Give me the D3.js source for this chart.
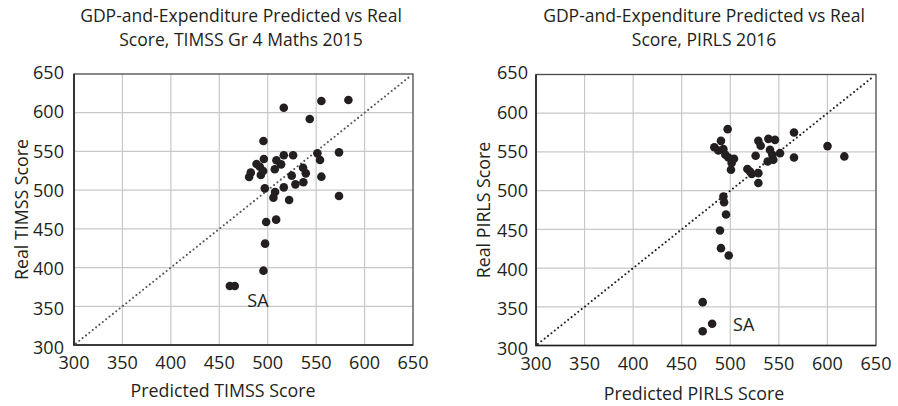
<!DOCTYPE html>
<html><head><meta charset="utf-8">
<script src="https://cdn.jsdelivr.net/npm/d3@7"></script>
<style>
html,body{margin:0;padding:0;background:#fff;}
text{font-family:"Open Sans",sans-serif;fill:#231f20;}
</style></head>
<body>
<svg id="c" width="898" height="406"></svg>
<script>
// ---- data ----
const axisTicks = [300, 350, 400, 450, 500, 550, 600, 650];
const timssPred = [516.6,555.4,583.3,543.4,495.6,496,516.6,526.2,509,513.8,488.4,491.8,495.3,492.9,482.5,480.8,507.3,551.3,554,573.6,536.5,539.3,524.8,555.4,497,516.6,528.6,536.8,507.6,505.9,522.1,573.6,498.4,508.7,497.3,495.6,460.9,466];
const timssReal = [606.5,615.1,616.4,591.9,563.5,540.2,545,545,538.5,533.3,533.8,530.3,524.7,519.6,522.6,517,526.9,547.5,538.9,548.8,529,521.7,518.7,517.4,502.3,503.6,507.5,510.1,497.6,490.3,487.3,492.4,458.9,461.9,430.9,396,376.2,376.2];
const pirlsPred = [497.3,490.4,483.6,487.7,492.9,494.9,498,503.8,501.4,500.7,517.6,520.3,522.1,528.9,528.9,526.1,528.9,531.3,539.2,546,540.9,543.3,538.5,544.3,551.2,565.6,565.6,600.1,617.4,492.9,493.6,495.6,489.4,490.4,498.4,471.6,481.3,471.6];
const pirlsReal = [579.4,564.3,556.1,551.8,553.6,546.3,542.8,541.1,535.6,527,527.9,524.7,521.7,522.6,509.8,545,564.3,557.9,566.9,565.6,552.7,546.2,537.6,539.8,548.4,575,542.8,557.5,544.2,492.4,485.1,469.2,448.5,425.7,416.2,356,328,318.5];
const titlesTimss = ["GDP-and-Expenditure Predicted vs Real", "Score, TIMSS Gr 4 Maths 2015"];
const titlesPirls = ["GDP-and-Expenditure Predicted vs Real", "Score, PIRLS 2016"];
const saTimss = {x: 463.5, y: 376.2, label: "SA"};
const saPirls = {x: 481.3, y: 328, label: "SA"};

const svg = d3.select("#c");

function fitSize(str, target, base) {
  const t = svg.append("text").style("font-size", base + "px").text(str);
  const w = t.node().getComputedTextLength();
  t.remove();
  return base * target / w;
}
const tickFs = fitSize("650", 31, 16);
const titleFs = fitSize(titlesTimss[0], 322, 16);
const axFs = fitSize("Predicted TIMSS Score", 185, 16);

function panel(cfg) {
  const g = svg.append("g");
  const x = d3.scaleLinear().domain([300, 650]).range([cfg.x0, cfg.x1]);
  const y = d3.scaleLinear().domain([300, 650]).range([cfg.y0, cfg.y1]);

  // grid
  g.append("g").selectAll("line").data(axisTicks.slice(1, -1)).join("line")
    .attr("x1", d => x(d)).attr("x2", d => x(d)).attr("y1", y(300)).attr("y2", y(650))
    .attr("stroke", "#c8c8c8").attr("stroke-width", 1.2);
  g.append("g").selectAll("line").data(axisTicks.slice(1, -1)).join("line")
    .attr("y1", d => y(d)).attr("y2", d => y(d)).attr("x1", x(300)).attr("x2", x(650))
    .attr("stroke", "#c8c8c8").attr("stroke-width", 1.2);

  // frame
  g.append("rect").attr("x", x(300)).attr("y", y(650))
    .attr("width", x(650) - x(300)).attr("height", y(300) - y(650))
    .attr("fill", "none").attr("stroke", "#4a4a4a").attr("stroke-width", 1.3);
  g.append("path").attr("d", `M${x(300)},${y(650)}V${y(300)}H${x(650)}`)
    .attr("fill", "none").attr("stroke", "#231f20").attr("stroke-width", 1.6);

  // diagonal
  g.append("line").attr("x1", x(302)).attr("y1", y(302)).attr("x2", x(648)).attr("y2", y(648))
    .attr("stroke", cfg.diagColor).attr("stroke-width", 2.1)
    .attr("stroke-linecap", "round").attr("stroke-dasharray", "0,4.3");

  // points
  g.append("g").selectAll("circle").data(cfg.px.map((v, i) => [v, cfg.py[i]])).join("circle")
    .attr("cx", d => x(d[0])).attr("cy", d => y(d[1])).attr("r", 4.3).attr("fill", "#231f20");

  // SA label
  g.append("text").attr("x", x(cfg.sa.x) + cfg.saDx).attr("y", y(cfg.sa.y) + cfg.saDy)
    .attr("dominant-baseline", "central").style("font-size", tickFs + "px").text(cfg.sa.label);

  // tick labels
  g.append("g").selectAll("text").data(axisTicks).join("text")
    .attr("x", d => x(d)).attr("y", y(300) + 17).attr("text-anchor", "middle")
    .attr("dominant-baseline", "central").style("font-size", tickFs + "px").text(d => d);
  g.append("g").selectAll("text").data(axisTicks).join("text")
    .attr("x", x(300) - cfg.yLabGap).attr("y", d => y(d) + (d - 475) * -0.012)
    .attr("text-anchor", "end").attr("dominant-baseline", "central")
    .style("font-size", tickFs + "px").text(d => d);

  // titles
  cfg.titles.forEach((t, i) => {
    g.append("text").attr("x", cfg.titleX).attr("y", 15 + i * 24)
      .attr("text-anchor", "middle").attr("dominant-baseline", "central")
      .style("font-size", titleFs + "px").text(t);
  });
  g.append("text").attr("x", cfg.xTitleX).attr("y", cfg.xTitleY)
    .attr("text-anchor", "middle").attr("dominant-baseline", "central")
    .style("font-size", axFs + "px").text(cfg.xTitle);
  g.append("text").attr("transform", `translate(${cfg.yTitleX},${(y(300) + y(650)) / 2}) rotate(-90)`)
    .attr("text-anchor", "middle").attr("dominant-baseline", "central")
    .style("font-size", axFs + "px").text(cfg.yTitle);
}

panel({x0: 74, x1: 413, y0: 345, y1: 74, px: timssPred, py: timssReal, diagColor: "#555",
  sa: saTimss, saDx: 15, saDy: 14, yLabGap: 10, titles: titlesTimss, titleX: 241,
  xTitleX: 223, xTitleY: 390, xTitle: "Predicted TIMSS Score",
  yTitle: "Real TIMSS Score", yTitleX: 21});
panel({x0: 536, x1: 876, y0: 345.5, y1: 74.5, px: pirlsPred, py: pirlsReal, diagColor: "#231f20",
  sa: saPirls, saDx: 21, saDy: 0, yLabGap: 8, titles: titlesPirls, titleX: 704,
  xTitleX: 694, xTitleY: 393, xTitle: "Predicted PIRLS Score",
  yTitle: "Real PIRLS Score", yTitleX: 483});
</script>
</body></html>
